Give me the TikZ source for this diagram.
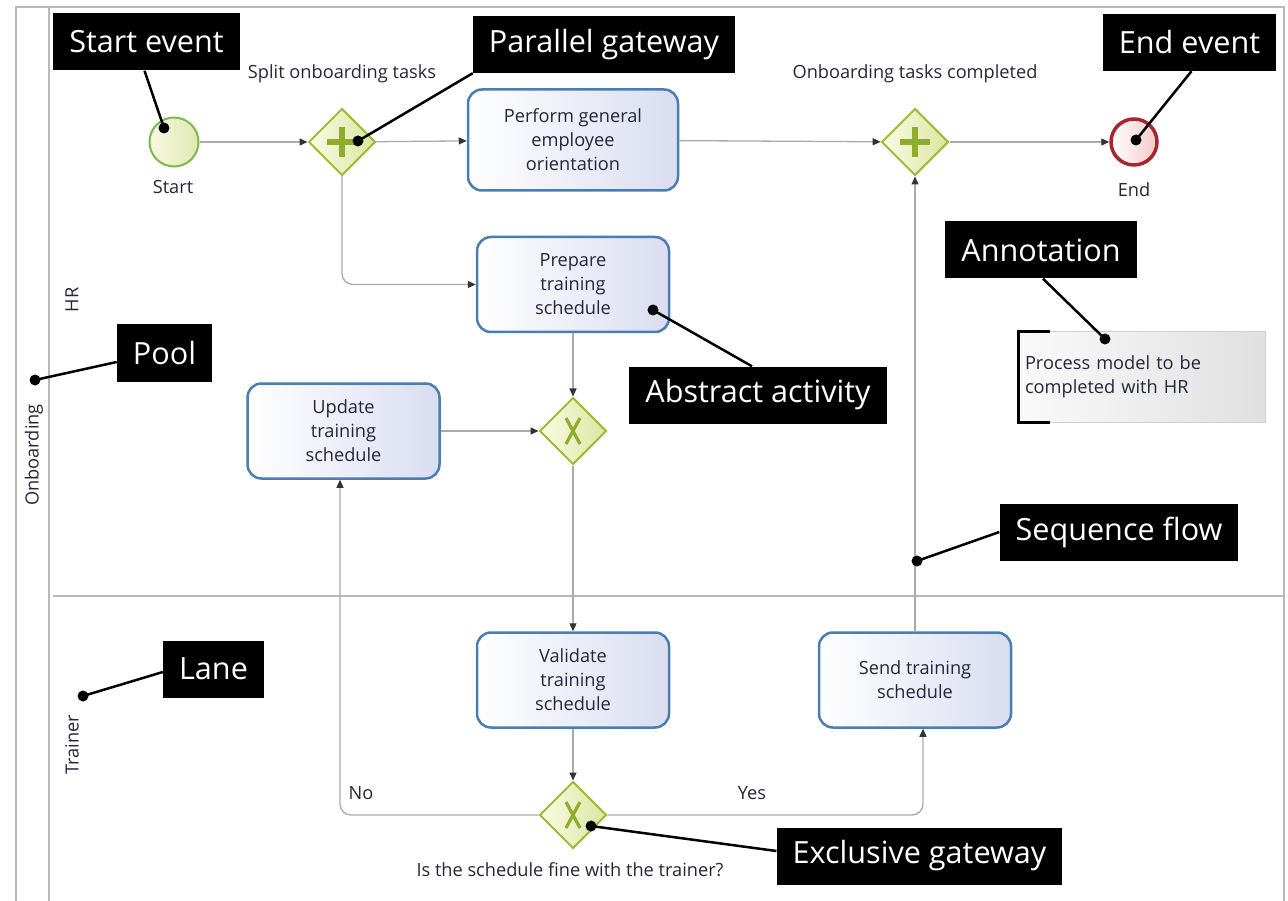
\documentclass[tikz,border=0pt]{standalone}
\usepackage{fontspec}
\setmainfont{Open Sans}
\usetikzlibrary{shapes.geometric,arrows.meta}

\definecolor{framegray}{HTML}{B9B9B9}
\definecolor{flowgray}{HTML}{ABABAB}
\definecolor{tipgray}{HTML}{333333}
\definecolor{taskblue}{HTML}{4A7EB3}
\definecolor{tasklav}{HTML}{DADDF0}
\definecolor{gateline}{HTML}{9DBC3E}
\definecolor{gatelight}{HTML}{FAFCE4}
\definecolor{gatedark}{HTML}{DAE5A0}
\definecolor{gatemark}{HTML}{8FAD2C}
\definecolor{startline}{HTML}{7CBA4C}
\definecolor{startlight}{HTML}{F7F9E2}
\definecolor{startdark}{HTML}{DFE8B2}
\definecolor{endline}{HTML}{A3282D}
\definecolor{endpink}{HTML}{F3C9C9}
\definecolor{annlight}{HTML}{FAFAFA}
\definecolor{anndark}{HTML}{E0E0E0}
\definecolor{annline}{HTML}{D0D0D0}
\definecolor{labeltext}{HTML}{26263A}

\begin{document}
\begin{tikzpicture}[x=1pt,y=-1pt,
  txt/.style={text=labeltext,font=\fontsize{18.2}{24}\selectfont},
  lbl/.style={txt,inner sep=0pt,align=center},
  task/.style={txt,draw=taskblue,line width=2.5pt,rounded corners=14pt,
    left color=white,right color=tasklav,minimum width=192pt,
    minimum height=95pt,inner sep=0pt,align=center},
  gate/.style={diamond,aspect=1,draw=gateline,line width=2pt,
    left color=gatelight,right color=gatedark,minimum width=67pt,
    minimum height=67pt,inner sep=0pt},
  startev/.style={circle,draw=startline,line width=2pt,left color=startlight,
    right color=startdark,minimum size=49pt,inner sep=0pt},
  endev/.style={circle,draw=endline,line width=3.5pt,left color=white,
    right color=endpink,minimum size=46pt,inner sep=0pt},
  plusmark/.style={gatemark,line width=6pt},
  xmark/.style={gatemark,line width=3.2pt},
  flow/.style={flowgray,line width=1.3pt,rounded corners=11pt,
    -{Triangle[length=8pt,width=7pt,color=tipgray]}},
  frame/.style={framegray,line width=2pt},
  callout/.style={fill=black,text=white,font=\fontsize{30.6}{36}\selectfont,
    inner xsep=16pt,inner ysep=0pt,minimum height=57pt},
  leader/.style={black,line width=2.5pt},
  dot/.style={black}
]
\useasboundingbox (0,0) rectangle (1288,901);
\fill[white] (0,0) rectangle (1288,901);

% pool and lane borders
\draw[frame] (16,901) -- (16,7) -- (1284,7) -- (1284,901);
\draw[frame] (49,7) -- (49,901);
\draw[frame,line width=2.6pt] (53,596) -- (1284,596);

% pool and lane names
\node[lbl,rotate=90] (poolname) at (34,455) {Onboarding};
\node[lbl,rotate=90] (hrname) at (72,300) {HR};
\node[lbl,rotate=90] (trainername) at (72,745) {Trainer};

% events
\node[startev] (start) at (174,142) {};
\node[lbl] (startlbl) at (173,187) {Start};
\node[endev] (end) at (1134,142) {};
\node[lbl] (endlbl) at (1134,190) {End};

% gateways
\node[gate] (g1) at (342,142) {};
\node[lbl] (g1lbl) at (342,74) {Split onboarding tasks};
\node[gate] (g2) at (915,142) {};
\node[lbl] (g2lbl) at (915,74) {Onboarding tasks completed};
\node[gate] (xg1) at (573,431) {};
\node[gate] (xg2) at (573,815) {};
\node[lbl] (xg2lbl) at (570,870) {Is the schedule fine with the trainer?};

\foreach \g in {g1,g2}
  \draw[plusmark] (\g) ++(-15,0) -- ++(30,0) (\g) ++(0,-15) -- ++(0,30);
\foreach \g in {xg1,xg2}
  \draw[xmark] (\g) ++(-7,-13) -- ++(14,26) (\g) ++(7,-13) -- ++(-14,26);

% activities
\node[task,minimum width=210pt,minimum height=101pt] (perform) at (573,140)
  {Perform general\\employee\\orientation};
\node[task] (prep) at (573,284.5) {Prepare\\training\\schedule};
\node[task] (upd) at (343.5,431) {Update\\training\\schedule};
\node[task] (valid) at (573,680) {Validate\\training\\schedule};
\node[task] (send) at (915,680) {Send training\\schedule};

% annotation
\node[txt,draw=annline,line width=1pt,left color=annlight,right color=anndark,
  text width=232pt,inner xsep=8pt,minimum height=90pt,align=left] (annot)
  at (1141,377) {Process model to be\\completed with HR};
\draw[black,line width=3.5pt]
  ([xshift=33pt]annot.north west) -- ([xshift=2pt]annot.north west)
  -- ([xshift=2pt]annot.south west) -- ([xshift=33pt]annot.south west);

% sequence flows
\draw[flow] (start) -- (g1);
\draw[flow] (g1) -- (perform);
\draw[flow] (g1.south) |- (prep.west);
\draw[flow] (perform) -- (g2);
\draw[flow] (g2) -- (end);
\draw[flow] (prep) -- (xg1);
\draw[flow] (upd) -- (xg1);
\draw[flow] (xg1) -- (valid);
\draw[flow] (valid) -- (xg2);
\draw[flow] (xg2.west) -| ([xshift=-3.5pt]upd.south);
\draw[flow] (xg2.east) -| ([xshift=8pt]send.south);
\draw[flow] (send) -- (g2);
\node[lbl] (nolbl) at (361,793) {No};
\node[lbl] (yeslbl) at (752,793) {Yes};

% explanatory callouts
\node[callout] (cStart) at (146.5,42) {Start event};
\node[callout] (cPar) at (604,44.5) {Parallel gateway};
\node[callout] (cEnd) at (1189.5,42.5) {End event};
\node[callout] (cAnn) at (1041,250) {Annotation};
\node[callout] (cPool) at (164.5,353) {Pool};
\node[callout] (cAbs) at (758,395) {Abstract activity};
\node[callout] (cSeq) at (1119,532) {Sequence flow};
\node[callout] (cLane) at (213.5,669) {Lane};
\node[callout] (cExc) at (919.5,856) {Exclusive gateway};

\coordinate (dStart) at (164,128);
\coordinate (dPar) at (358,141);
\coordinate (dEnd) at (1136,140);
\coordinate (dAnn) at (1105,339);
\coordinate (dPool) at (35,380);
\coordinate (dAbs) at (653,310);
\coordinate (dSeq) at (917,561);
\coordinate (dLane) at (83,696);
\coordinate (dExc) at (591,826);

\draw[leader] ([xshift=-2pt]cStart.south) -- (dStart);
\draw[leader] (cPar.south west) -- (dPar);
\draw[leader] ([xshift=2pt]cEnd.south) -- (dEnd);
\draw[leader] ([xshift=2pt]cAnn.south) -- (dAnn);
\draw[leader] ([yshift=-9pt]cPool.west) -- (dPool);
\draw[leader] ([xshift=-6pt]cAbs.north) -- (dAbs);
\draw[leader] (cSeq.west) -- (dSeq);
\draw[leader] ([yshift=-3pt]cLane.west) -- (dLane);
\draw[leader] ([yshift=5pt]cExc.west) -- (dExc);

\foreach \d in {dStart,dPar,dEnd,dAnn,dPool,dAbs,dSeq,dLane,dExc}
  \fill[dot] (\d) circle[radius=5.5pt];
\end{tikzpicture}
\end{document}
